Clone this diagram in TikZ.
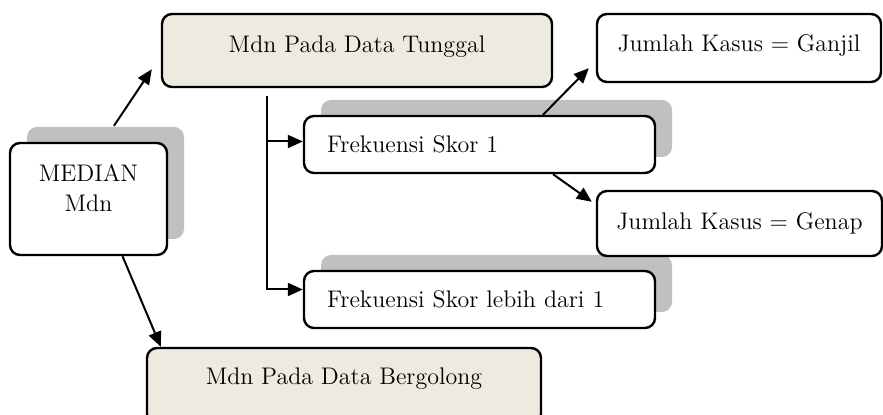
\documentclass[tikz,border=0pt]{standalone}
\usetikzlibrary{arrows.meta, positioning, shadows}
\definecolor{boxbeige}{HTML}{EDEAE0}
\definecolor{shadegray}{HTML}{C0C0C0}

\begin{document}
\begin{tikzpicture}[
    x=0.5pt, y=-0.5pt,
    >={Triangle[length=7.5pt, width=6.5pt]},
    box/.style={draw, line width=1.2pt, rounded corners=5pt, fill=white,
                font=\fontsize{12}{15}\selectfont, inner sep=0pt},
    raised/.style={text height=8pt, text depth=6pt},
    shade/.style={general shadow={fill=shadegray, shadow xshift=8.5pt,
                  shadow yshift=8pt}},
    freq/.style={box, shade, text width=152.5pt, inner xsep=11.5pt,
                 align=left, minimum height=28.5pt},
    link/.style={->, line width=1pt}
  ]
  \useasboundingbox (0,0) rectangle (883,415);

  \node[box, shade, align=center, minimum width=78.5pt, minimum height=56pt]
    (median) at (88.5,199) {MEDIAN\\Mdn\\[-4pt]\mbox{}};

  \node[box, raised, fill=boxbeige, minimum width=195pt, minimum height=36.5pt]
    (tunggal) at (357,50.5) {Mdn Pada Data Tunggal};
  \node[box, raised, text depth=9.5pt, fill=boxbeige, minimum width=197pt,
        minimum height=38pt] (bergolong) at (344,386) {Mdn Pada Data Bergolong};

  \node[freq] (frek1) at (479.5,144.5) {Frekuensi Skor 1};
  \node[freq] (frek2) at (479.5,299.5) {Frekuensi Skor lebih dari 1};

  \node[box, text height=8pt, text depth=4pt, minimum width=142pt,
        minimum height=34pt] (ganjil) at (739,48) {Jumlah Kasus = Ganjil};
  \node[box, minimum width=142.5pt, minimum height=32.5pt]
    (genap) at (739.5,223.5) {Jumlah Kasus = Genap};

  \coordinate (split) at ([xshift=-45pt, yshift=-4pt]tunggal.south);

  \draw[link] ([xshift=12.75pt, yshift=8pt]median.north)
    -- ([xshift=-4.5pt, yshift=9.5pt]tunggal.south west);
  \draw[link] ([xshift=17pt]median.south)
    -- ([xshift=7.5pt]bergolong.north west);
  \draw[link] (split) |- ([yshift=1.5pt]frek1.west);
  \draw[link] (split) |- ([yshift=5pt]frek2.west);
  \draw[link] ([xshift=31.75pt]frek1.north)
    -- ([xshift=-3.5pt, yshift=7.5pt]ganjil.south west);
  \draw[link] ([xshift=36.75pt]frek1.south)
    -- ([xshift=-2pt, yshift=-6pt]genap.north west);
\end{tikzpicture}
\end{document}
